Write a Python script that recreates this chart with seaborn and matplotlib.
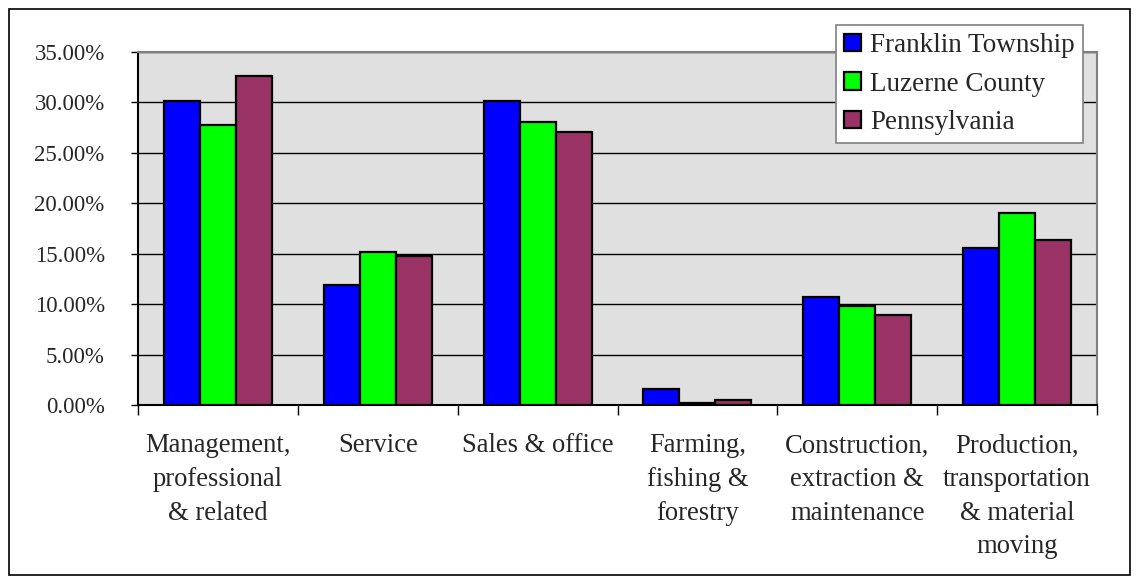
import pandas as pd
import matplotlib.pyplot as plt
import seaborn as sns
from matplotlib.patches import Rectangle
from matplotlib.ticker import FuncFormatter, FixedLocator

# Occupation shares (fraction of employed population)
categories = ['Management,\nprofessional\n& related', 'Service', 'Sales & office',
              'Farming,\nfishing &\nforestry', 'Construction,\nextraction &\nmaintenance',
              'Production,\ntransportation\n& material\nmoving']
regions = ['Franklin Township', 'Luzerne County', 'Pennsylvania']
franklin = [30.16, 11.86, 30.16, 1.55, 10.73, 15.56]
luzerne = [27.75, 15.16, 28.08, 0.2, 9.8, 19.06]
pennsylvania = [32.6, 14.8, 27.03, 0.5, 8.89, 16.35]
colors = ['#0000FF', '#00FF00', '#993366']

rows = []
for region, vals in zip(regions, [franklin, luzerne, pennsylvania]):
    for cat, v in zip(categories, vals):
        rows.append({'category': cat, 'region': region, 'share': v / 100})
df = pd.DataFrame(rows)

sns.set_style('white')
plt.rcParams['font.family'] = ['Liberation Serif', 'DejaVu Serif']

fig = plt.figure(figsize=(11.39, 5.84), dpi=100)
ax = fig.add_axes([0.1212, 0.3065, 0.8419, 0.6045])
ax.set_facecolor('#E0E0E0')

sns.barplot(data=df, x='category', y='share', hue='region', palette=colors,
            width=0.675, edgecolor='black', linewidth=1.6, saturation=1,
            ax=ax, zorder=3, errorbar=None)

ax.set_ylim(0, 0.35)
ax.set_xlim(-0.5, len(categories) - 0.5)
ax.yaxis.set_major_locator(FixedLocator([i * 0.05 for i in range(8)]))
ax.yaxis.set_major_formatter(FuncFormatter(lambda v, p: f'{v * 100:.2f}%'))
ax.grid(axis='y', color='black', linewidth=1, zorder=1)
ax.set_axisbelow(True)

ax.set_xlabel('')
ax.set_ylabel('')
ax.tick_params(axis='y', which='major', left=True, length=5, width=1,
               color='black', labelsize=16.5, pad=19)
ax.tick_params(axis='x', which='major', bottom=False, labelsize=19.2, pad=17)
for lbl in ax.get_xticklabels():
    lbl.set_linespacing(1.45)
ax.set_xticks([i - 0.5 for i in range(len(categories) + 1)], minor=True)
ax.tick_params(axis='x', which='minor', bottom=True, length=7, width=1, color='black')

for name, sp in ax.spines.items():
    sp.set_visible(True)
    sp.set_color('#808080')
    sp.set_linewidth(1.5)
ax.spines['left'].set_color('black')
ax.spines['bottom'].set_color('black')

leg = ax.legend(loc='upper right', bbox_to_anchor=(0.9854, 1.0765), fontsize=19.5,
                frameon=True, fancybox=False, edgecolor='#808080',
                handlelength=0.62, handleheight=0.62, handletextpad=0.35,
                labelspacing=0.5, borderpad=0.3, borderaxespad=0)
leg.get_frame().set_linewidth(1.2)
leg.get_frame().set_facecolor('white')
leg.get_frame().set_alpha(1)
for h in leg.legend_handles:
    h.set_edgecolor('black')
    h.set_linewidth(1.6)

fig.patches.append(Rectangle((9 / 1139, 9 / 584), 1121 / 1139, 566 / 584,
                             transform=fig.transFigure, fill=False,
                             edgecolor='black', linewidth=1.2))

fig.savefig('out.png', dpi=100)
